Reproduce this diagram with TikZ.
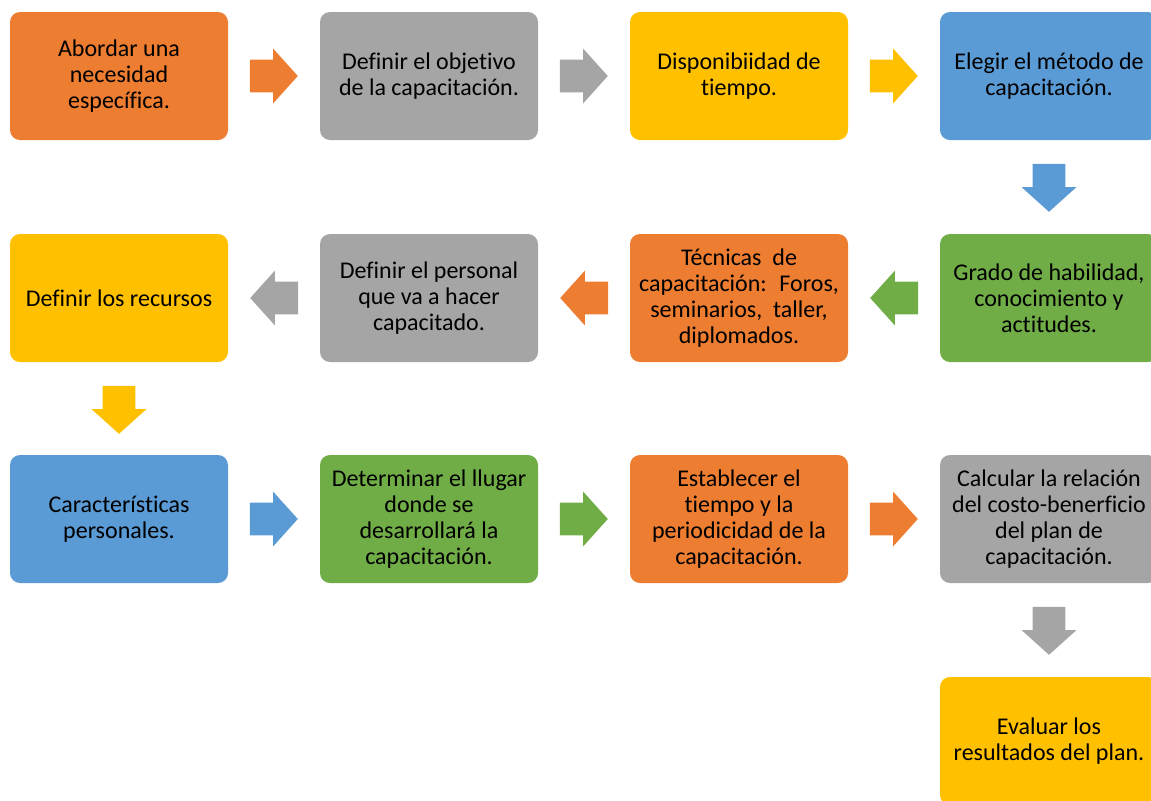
\documentclass[tikz,border=0pt]{standalone}
\usepackage{fontspec}
\setmainfont{Carlito}[Ligatures=NoCommon]
\usetikzlibrary{shapes.arrows,calc}
\definecolor{stepOrange}{HTML}{ED7D31}
\definecolor{stepGray}{HTML}{A5A5A5}
\definecolor{stepYellow}{HTML}{FFC000}
\definecolor{stepBlue}{HTML}{5B9BD5}
\definecolor{stepGreen}{HTML}{70AD47}
\begin{document}
\begin{tikzpicture}[x=0.5pt, y=-0.5pt,
    stepbox/.style={fill=#1, rounded corners=5pt, minimum width=109pt, minimum height=64pt,
        inner sep=0pt, align=center, font=\fontsize{12}{13}\selectfont},
    blockarrow/.style={single arrow, draw=none, fill=#1, minimum height=24pt,
        inner xsep=0pt, inner ysep=8pt, single arrow head extend=5.5pt,
        single arrow tip angle=96, anchor=tail}]
    \useasboundingbox (0, 0) rectangle (1151, 800);
    \clip (0, 0) rectangle (1151, 800);

    % first row
    \node[stepbox=stepOrange] (r1a) at (119, 76) {Abordar una\\necesidad\\específica.};
    \node[stepbox=stepGray]   (r1b) at (429, 76) {Definir el objetivo\\de la capacitación.};
    \node[stepbox=stepYellow] (r1c) at (739, 76) {Disponibiidad de\\tiempo.};
    \node[stepbox=stepBlue]   (r1d) at (1049, 76) {Elegir el método de\\capacitación.};

    % second row
    \node[stepbox=stepYellow] (r2a) at (119, 298) {Definir los recursos};
    \node[stepbox=stepGray]   (r2b) at (429, 298) {Definir el personal\\que va a hacer\\capacitado.};
    \node[stepbox=stepOrange] (r2c) at (739, 298) {Técnicas~ de\\capacitación:~ Foros,\\seminarios,~ taller,\\diplomados.};
    \node[stepbox=stepGreen]  (r2d) at (1049, 298) {Grado de habilidad,\\conocimiento y\\actitudes.};

    % third row
    \node[stepbox=stepBlue]   (r3a) at (119, 519) {Características\\personales.};
    \node[stepbox=stepGreen]  (r3b) at (429, 519) {Determinar el llugar\\donde se\\desarrollará la\\capacitación.};
    \node[stepbox=stepOrange] (r3c) at (739, 519) {Establecer el\\tiempo y la\\periodicidad de la\\capacitación.};
    \node[stepbox=stepGray]   (r3d) at (1049, 519) {Calcular la relación\\del costo-benerficio\\del plan de\\capacitación.};

    % last box
    \node[stepbox=stepYellow] (r4d) at (1049, 741) {Evaluar los\\resultados del plan.};

    % arrows
    \node[blockarrow=stepOrange] (a1) at ($(r1a.east)+(21,0)$) {};
    \node[blockarrow=stepGray]   (a2) at ($(r1b.east)+(21,0)$) {};
    \node[blockarrow=stepYellow] (a3) at ($(r1c.east)+(21,0)$) {};
    \node[blockarrow=stepBlue, rotate=-90] (a4) at ($(r1d.south)+(0,23)$) {};
    \node[blockarrow=stepGreen,  shape border rotate=180] (a5) at ($(r2d.west)-(21,0)$) {};
    \node[blockarrow=stepOrange, shape border rotate=180] (a6) at ($(r2c.west)-(21,0)$) {};
    \node[blockarrow=stepGray,   shape border rotate=180] (a7) at ($(r2b.west)-(21,0)$) {};
    \node[blockarrow=stepYellow, rotate=-90] (a8) at ($(r2a.south)+(0,23)$) {};
    \node[blockarrow=stepBlue]   (a9)  at ($(r3a.east)+(21,0)$) {};
    \node[blockarrow=stepGreen]  (a10) at ($(r3b.east)+(21,0)$) {};
    \node[blockarrow=stepOrange] (a11) at ($(r3c.east)+(21,0)$) {};
    \node[blockarrow=stepGray, rotate=-90] (a12) at ($(r3d.south)+(0,23)$) {};
\end{tikzpicture}
\end{document}
